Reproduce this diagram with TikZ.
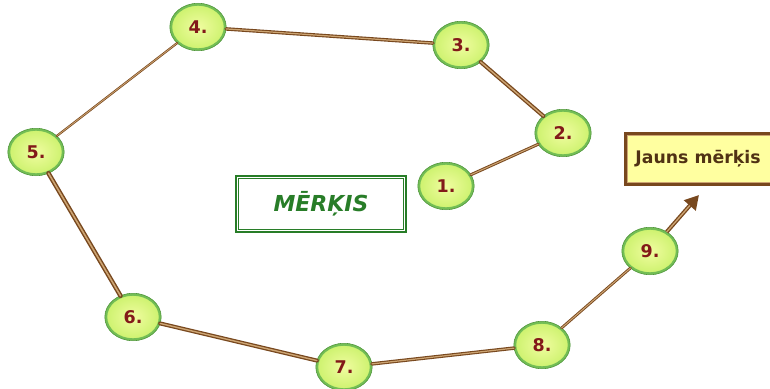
\documentclass[tikz,border=0pt]{standalone}
\usepackage{fontspec}
\setmainfont{Carlito}
\newfontfamily\numfont{DejaVu Sans}
\usetikzlibrary{arrows.meta,shapes.geometric}
\definecolor{cbrown}{RGB}{120,72,30}
\definecolor{ctan}{RGB}{205,165,115}
\definecolor{cgreenb}{RGB}{115,190,85}
\definecolor{cgreend}{RGB}{80,150,60}
\definecolor{cfillin}{RGB}{240,252,160}
\definecolor{cfillout}{RGB}{205,242,110}
\definecolor{cnum}{RGB}{130,25,25}
\definecolor{cgoal}{RGB}{40,125,40}
\definecolor{cyel}{RGB}{255,255,160}
\definecolor{ctxt}{RGB}{80,50,20}
\tikzset{
  stepnode/.style={ellipse, minimum width=54pt, minimum height=45pt, inner sep=0pt,
    draw=cgreenb, line width=2.4pt, inner color=cfillin, outer color=cfillout,
    font=\numfont\bfseries\fontsize{17.5}{18}\selectfont, text=cnum,
    append after command={\pgfextra{\let\mynode\tikzlastnode}
      (\mynode.center) node[ellipse, minimum width=56.4pt, minimum height=47.4pt, draw=cgreend, line width=0.6pt]{}}},
  conn/.style={draw=cbrown, line width=#1, line cap=round,
    postaction={draw=ctan, line width=0.35*#1}},
}
\begin{document}
\begin{tikzpicture}[x=1pt,y=-1pt]
\useasboundingbox (0,0) rectangle (770,388);
% nodes
\node[stepnode] (n1) at (446,186) {1.};
\node[stepnode] (n2) at (563,133) {2.};
\node[stepnode] (n3) at (461,45) {3.};
\node[stepnode] (n4) at (198,27) {4.};
\node[stepnode] (n5) at (36,152) {5.};
\node[stepnode] (n6) at (133,317) {6.};
\node[stepnode] (n7) at (344,367) {7.};
\node[stepnode] (n8) at (542,345) {8.};
\node[stepnode] (n9) at (650,251) {9.};
\coordinate (tip) at (699,195);
% connectors
\path[conn=3pt] (n1) -- (n2);
\path[conn=4pt] (n2) -- (n3);
\path[conn=3.5pt] (n3) -- (n4);
\path[conn=2.2pt] (n4) -- (n5);
\path[conn=4.5pt] (n5) -- (n6);
\path[conn=4pt] (n6) -- (n7);
\path[conn=3.5pt] (n7) -- (n8);
\path[conn=2.8pt] (n8) -- (n9);
\draw[cbrown, line width=4pt, -{Triangle[length=14pt,width=15pt]}] (n9) -- (tip);
\path[draw=ctan, line width=1.3pt, shorten >=14pt] (n9) -- (tip);
% goal box
\node[draw=cgoal, line width=2.8pt, fill=white, minimum width=170pt, minimum height=56pt,
  font=\numfont\bfseries\itshape\fontsize{22}{22}\selectfont, text=cgoal] (goal) at (321,204) {MĒRĶIS};
\draw[cgoal, line width=0.9pt] ([shift={(4pt,-4pt)}]goal.north west) rectangle ([shift={(-4pt,4pt)}]goal.south east);
% new goal box
\node[draw=cbrown, line width=3pt, fill=cyel, minimum width=154pt, minimum height=51pt,
  font=\numfont\bfseries\fontsize{17.3}{18}\selectfont, text=ctxt, anchor=west] (newgoal) at (624,159) {\hspace{-9pt}Jauns mērķis};
\draw[ctan, line width=1pt] ([shift={(3.5pt,-3.5pt)}]newgoal.north west) rectangle ([shift={(-3.5pt,3.5pt)}]newgoal.south east);
\end{tikzpicture}
\end{document}
